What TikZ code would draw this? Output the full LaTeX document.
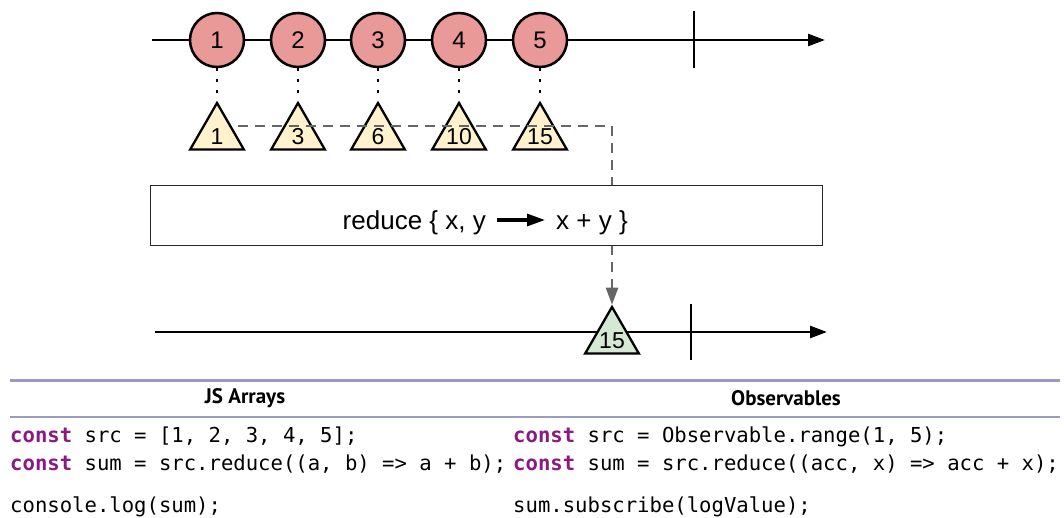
\documentclass[tikz,border=0pt]{standalone}
\usepackage{fontspec}
\setmainfont{Liberation Sans}
\setmonofont{DejaVu Sans Mono}
\newfontfamily\headfont{PT Sans}
\usetikzlibrary{arrows.meta,shapes.geometric,positioning}

\definecolor{marblered}{RGB}{234,153,153}
\definecolor{notefill}{RGB}{255,242,204}
\definecolor{donefill}{RGB}{213,232,212}
\definecolor{kwpurple}{RGB}{139,25,132}
\definecolor{rulecol}{RGB}{155,155,190}

\newcommand\kw[1]{\textcolor{kwpurple}{\bfseries #1}}

\tikzset{
  timeline/.style={line width=2.7pt,-{Triangle[length=17pt,width=12pt]}},
  endtick/.style={line width=2.7pt},
  marble/.style={circle,draw,line width=2.5pt,fill=marblered,minimum size=54pt,
    inner sep=0pt,font=\fontsize{24}{28}\selectfont},
  tri/.style={regular polygon,regular polygon sides=3,draw,line width=2.3pt,
    minimum size=62pt,inner sep=0pt},
  trilabel/.style={inner sep=0pt,font=\fontsize{23}{26}\selectfont},
  tether/.style={line width=2.5pt,dash pattern=on 2.5pt off 8.5pt,shorten >=5pt},
  accum/.style={gray!80!black,line width=2.5pt,dash pattern=on 10pt off 7pt,
    -{Triangle[length=17pt,width=12pt]}},
  opbox/.style={draw=black!85,line width=1pt,fill=white,minimum width=672pt,
    minimum height=60pt},
  optext/.style={inner sep=0pt,font=\fontsize{26}{30}\selectfont},
  head/.style={font=\headfont\bfseries\fontsize{21}{24}\selectfont},
  code/.style={anchor=base west,inner sep=0pt,font=\ttfamily\fontsize{20.6}{24}\selectfont},
  rulebar/.style={rulecol,line width=#1},
}

\begin{document}
\begin{tikzpicture}[x=1pt,y=-1pt]
\useasboundingbox (0,0) rectangle (1064,518);

% source stream
\draw[timeline] (152,40) -- (825,40);
\draw[endtick] (694,11) -- (694,68);
\foreach \v [count=\i] in {217,298,378,459,540}{
  \node[marble] (m\i) at (\v,40) {\i};
  \node[tri,fill=notefill] (t\i) at (\v,134) {};
  \draw[tether] (m\i.south) -- (t\i.north);
}

% running total into the result stream
\draw[endtick] (691,304) -- (691,360);
\draw[timeline] (155,332) -- (827,332);
\node[tri,fill=donefill] (res) at (612,338) {};
\draw[accum] ([shift={(21,-8)}]t1.center) -| (res.north);

% partial sums on top of the dashes
\foreach \s [count=\i] in {1,3,6,10,15}
  \node[trilabel] (s\i) at ([yshift=-3pt]t\i.center) {\s};
\node[trilabel] (rs) at ([yshift=-3pt]res.center) {15};

% operator box
\node[opbox] (op) at (486,216) {};
\node[optext,anchor=base east] (lhs) at (486,230) {reduce \{ x, y};
\node[optext,anchor=base west] (rhs) at (556,230) {x + y \}};
\coordinate (from) at (497,220);
\coordinate (to) at (545,220);
\draw[line width=3.2pt,-{Triangle[length=18pt,width=12pt]}] (from) -- (to);

% comparison table
\draw[rulebar=3pt] (10,380) -- (1060,380);
\draw[rulebar=1.6pt] (10,417) -- (1060,417);
\node[head] (hl) at (245,398) {JS Arrays};
\node[head] (hr) at (786,398) {Observables};

\node[code] (l1) at (10,442) {\kw{const} src = [1, 2, 3, 4, 5];};
\node[code] (l2) at (10,470) {\kw{const} sum = src.reduce((a, b) => a + b);};
\node[code] (l3) at (10,512) {console.log(sum);};
\node[code] (r1) at (513,442) {\kw{const} src = Observable.range(1, 5);};
\node[code] (r2) at (513,470) {\kw{const} sum = src.reduce((acc, x) => acc + x);};
\node[code] (r3) at (513,512) {sum.subscribe(logValue);};
\end{tikzpicture}
\end{document}
